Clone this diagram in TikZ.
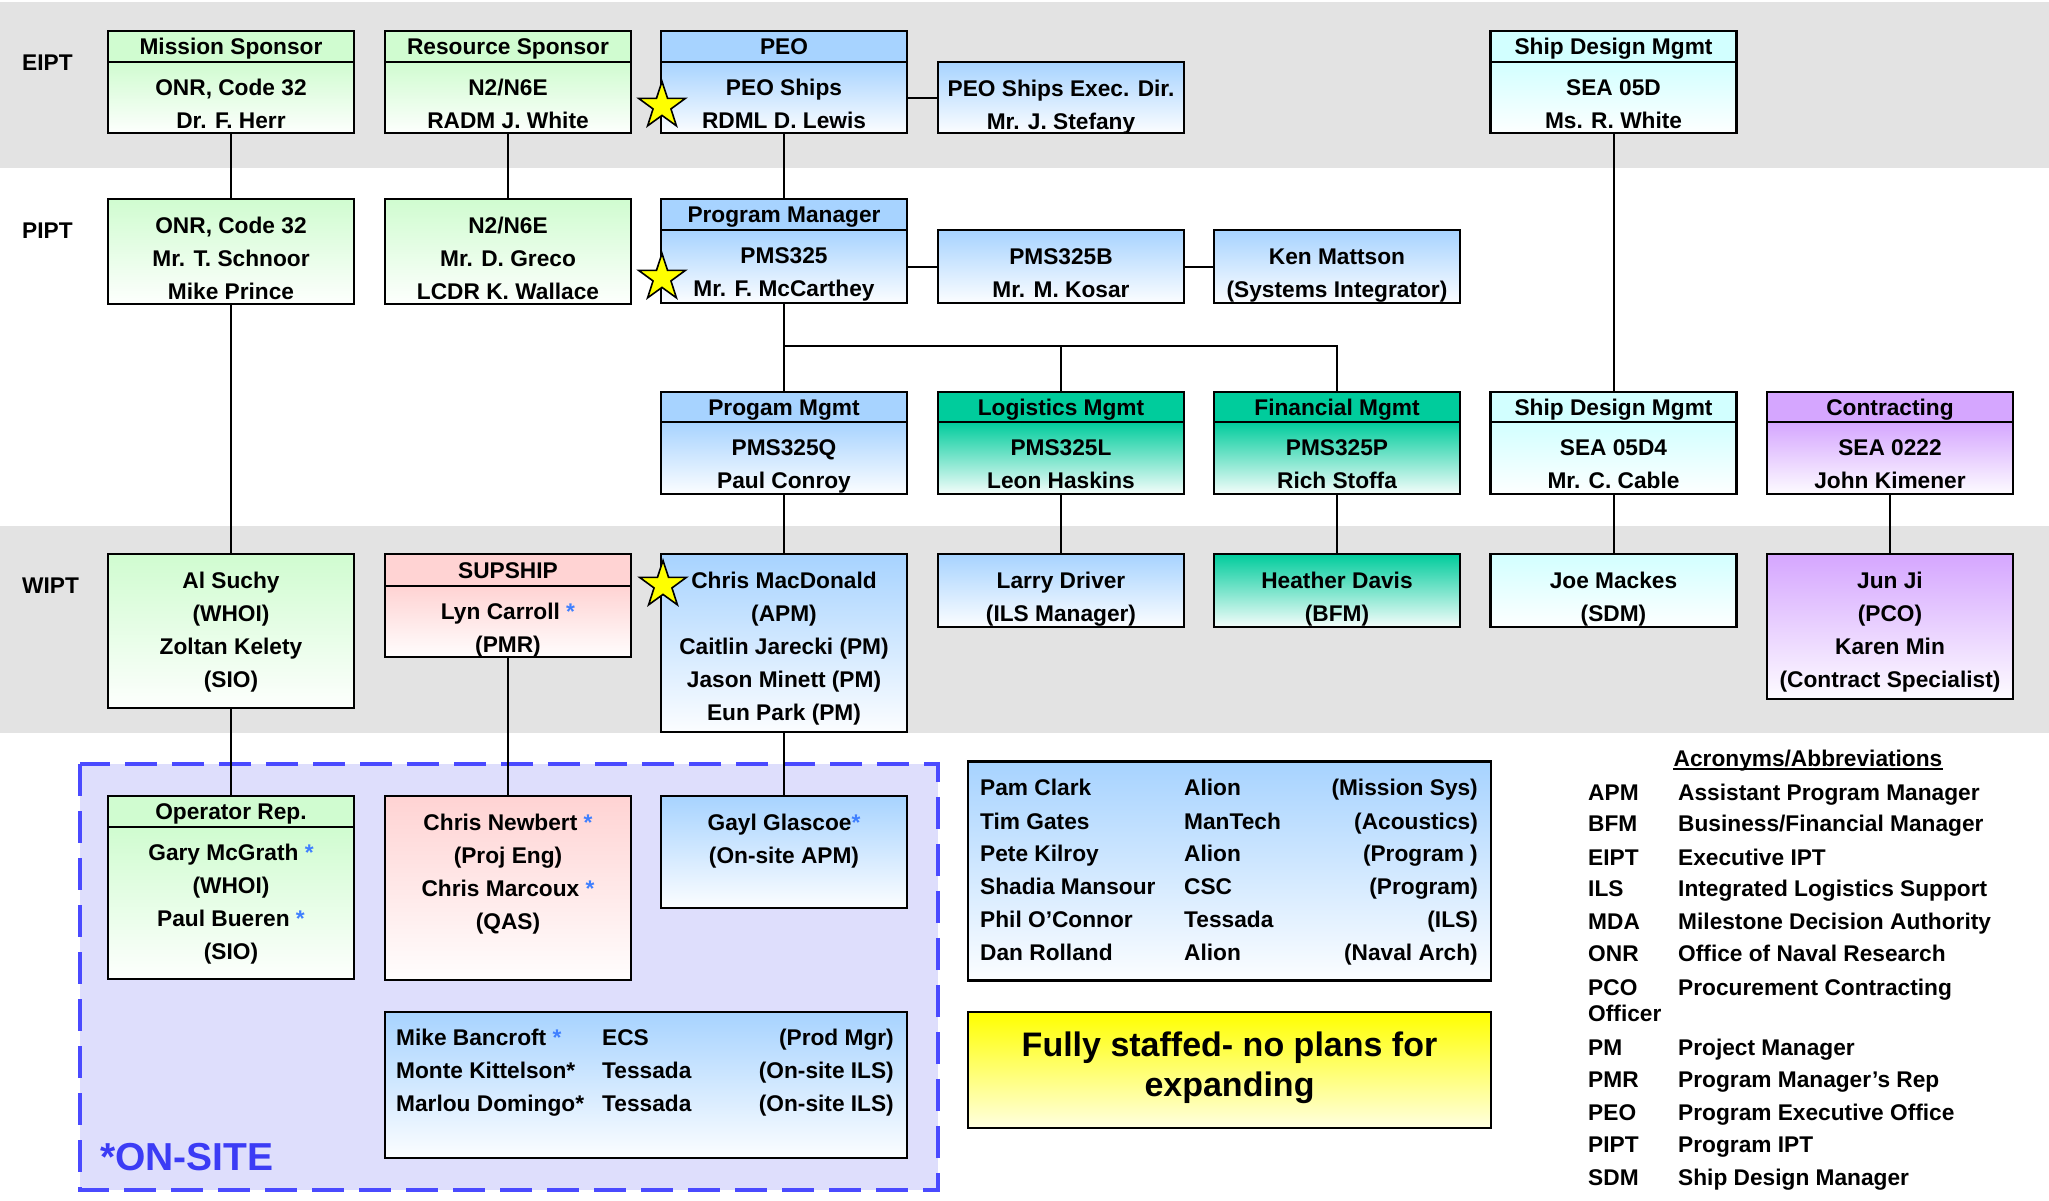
\documentclass[tikz,border=0pt]{standalone}
\usepackage{fontspec}
\setmainfont{Liberation Sans}
\usetikzlibrary{shapes.geometric}
\definecolor{cgreen}{HTML}{D0FCD0}
\definecolor{cblue}{HTML}{A7D3FF}
\definecolor{cteal}{HTML}{00CC9C}
\definecolor{ccyan}{HTML}{D2FFFF}
\definecolor{cpurple}{HTML}{D5A6FF}
\definecolor{cpink}{HTML}{FFD3D3}
\definecolor{bandgray}{HTML}{E3E3E3}
\definecolor{onfill}{HTML}{DEDEFC}
\definecolor{ondash}{HTML}{4A4AFF}
\definecolor{ontext}{HTML}{3C3CF5}
\definecolor{astblue}{HTML}{3F7FFF}
\definecolor{cyellow}{HTML}{FFFF00}
\newcommand{\AstB}{\textcolor{astblue}{*}}
% header box: name, xc, ytop, ydiv, ybot, colour, header, body
\newcommand{\OrgH}[8]{%
  \node[boxs, fill=#6, minimum height={(#4-#3)*1pt}, text height=16.2pt, text depth=0pt] (#1-h) at (#2,{(#3+#4)/2}) {#7};
  \node[boxs, top color=#6, bottom color=#6!4!white, minimum height={(#5-#4)*1pt}] (#1-b) at (#2,{(#4+#5)/2}) {};
  \node[txt] (#1-t) at (#2,{#4+10}) {\strut #8};
}
% plain box: name, xc, ytop, ybot, colour, body
\newcommand{\OrgB}[6]{%
  \node[boxs, top color=#5, bottom color=#5!4!white, minimum height={(#4-#3)*1pt}] (#1) at (#2,{(#3+#4)/2}) {};
  \node[txt] (#1-t) at (#2,{#3+11}) {\strut #6};
}
\begin{document}
\begin{tikzpicture}[x=1pt,y=-1pt,
  every node/.style={font=\bfseries\fontsize{22.7}{33}\selectfont},
  boxs/.style={draw=black, line width=2.2pt, minimum width=246pt, inner sep=0pt, outer sep=0pt},
  txt/.style={align=center, inner sep=0pt, anchor=north},
  conn/.style={draw=black, line width=2pt},
  rowl/.style={anchor=west, inner sep=0pt, text height=16.2pt, text depth=0pt},
  rowr/.style={anchor=east, inner sep=0pt, text height=16.2pt, text depth=0pt},
  stary/.style={star, star points=5, star point ratio=2.6, draw=black, fill=cyellow, line width=1.6pt, minimum size=49pt, inner sep=0pt}]
\useasboundingbox (0,0) rectangle (2049,1200);
% bands
\fill[bandgray] (0,2) rectangle (2049,168);
\fill[bandgray] (0,526) rectangle (2049,733);
% on-site area
\draw[fill=onfill, draw=ondash, line width=4pt, dash pattern=on 32pt off 15pt] (80,764) rectangle (938,1190);
\node[anchor=base west, inner sep=0pt, font=\bfseries\fontsize{39}{44}\selectfont, text=ontext] (onsite) at (100,1170) {*ON-SITE};
% level labels
\node[rowl] (lbl-e) at (22,62) {EIPT};
\node[rowl] (lbl-p) at (22,230) {PIPT};
\node[rowl] (lbl-w) at (22,585) {WIPT};
% EIPT row
\OrgH{ms}{231}{31}{62}{133}{cgreen}{Mission Sponsor}{ONR, Code 32\\Dr. F. Herr}
\OrgH{rs}{508}{31}{62}{133}{cgreen}{Resource Sponsor}{N2/N6E\\RADM J. White}
\OrgH{peo}{784}{31}{62}{133}{cblue}{PEO}{PEO Ships\\RDML D. Lewis}
\OrgB{exd}{1061}{62}{133}{cblue}{PEO Ships Exec. Dir.\\Mr. J. Stefany}
\OrgH{sd}{1613.5}{31}{62}{133}{ccyan}{Ship Design Mgmt}{SEA 05D\\Ms. R. White}
% PIPT row
\OrgB{onr}{231}{199}{304}{cgreen}{ONR, Code 32\\Mr. T. Schnoor\\Mike Prince}
\OrgB{ntwo}{508}{199}{304}{cgreen}{N2/N6E\\Mr. D. Greco\\LCDR K. Wallace}
\OrgH{pm}{784}{199}{230}{303}{cblue}{Program Manager}{PMS325\\Mr. F. McCarthey}
\OrgB{pmb}{1061}{230}{303}{cblue}{PMS325B\\Mr. M. Kosar}
\OrgB{km}{1337}{230}{303}{cblue}{Ken Mattson\\(Systems Integrator)}
% management row
\OrgH{pq}{784}{392}{422}{494}{cblue}{Progam Mgmt}{PMS325Q\\Paul Conroy}
\OrgH{pl}{1061}{392}{422}{494}{cteal}{Logistics Mgmt}{PMS325L\\Leon Haskins}
\OrgH{pf}{1337}{392}{422}{494}{cteal}{Financial Mgmt}{PMS325P\\Rich Stoffa}
\OrgH{sdb}{1613.5}{392}{422}{494}{ccyan}{Ship Design Mgmt}{SEA 05D4\\Mr. C. Cable}
\OrgH{ct}{1890}{392}{422}{494}{cpurple}{Contracting}{SEA 0222\\John Kimener}
% WIPT row
\OrgB{al}{231}{554}{708}{cgreen}{Al Suchy\\(WHOI)\\Zoltan Kelety\\(SIO)}
\OrgH{sup}{508}{554}{586}{657}{cpink}{SUPSHIP}{Lyn Carroll \AstB\\(PMR)}
\OrgB{cm}{784}{554}{732}{cblue}{Chris MacDonald\\(APM)\\Caitlin Jarecki (PM)\\Jason Minett (PM)\\Eun Park (PM)}
\OrgB{ld}{1061}{554}{627}{cblue}{Larry Driver\\(ILS Manager)}
\OrgB{hd}{1337}{554}{627}{cteal}{Heather Davis\\(BFM)}
\OrgB{jm}{1613.5}{554}{627}{ccyan}{Joe Mackes\\(SDM)}
\OrgB{jj}{1890}{554}{699}{cpurple}{Jun Ji\\(PCO)\\Karen Min\\(Contract Specialist)}
% on-site row
\OrgH{op}{231}{796}{827}{979}{cgreen}{Operator Rep.}{Gary McGrath \AstB\\(WHOI)\\Paul Bueren \AstB\\(SIO)}
\OrgB{cn}{508}{796}{980}{cpink}{Chris Newbert \AstB\\(Proj Eng)\\Chris Marcoux \AstB\\(QAS)}
\OrgB{gg}{784}{796}{908}{cblue}{Gayl Glascoe\AstB\\(On-site APM)}
% Bancroft box
\node[boxs, minimum width=522pt, minimum height=146pt, top color=cblue, bottom color=cblue!4!white] (mb) at (646,1085) {};
\foreach \n/\y/\a/\b/\c in {1/1037/{Mike Bancroft \AstB}/ECS/{(Prod Mgr)}, 2/1070/{Monte Kittelson*}/Tessada/{(On-site ILS)}, 3/1103/{Marlou Domingo*}/Tessada/{(On-site ILS)}}{
  \node[rowl] (mb-\n-a) at (396,\y) {\a};
  \node[rowl] (mb-\n-b) at (602,\y) {\b};
  \node[rowr] (mb-\n-c) at (894,\y) {\c};
}
% contractor list box
\node[boxs, minimum width=523pt, minimum height=219pt, top color=cblue, bottom color=cblue!4!white] (pcb) at (1229.5,871) {};
\foreach \n/\y/\a/\b/\c in {1/787/Pam Clark/Alion/{(Mission Sys)}, 2/821/Tim Gates/ManTech/{(Acoustics)}, 3/853/Pete Kilroy/Alion/{(Program )}, 4/886/Shadia Mansour/CSC/{(Program)}, 5/919/Phil O’Connor/Tessada/{(ILS)}, 6/952/Dan Rolland/Alion/{(Naval Arch)}}{
  \node[rowl] (pc-\n-a) at (980,\y) {\a};
  \node[rowl] (pc-\n-b) at (1184,\y) {\b};
  \node[rowr] (pc-\n-c) at (1478,\y) {\c};
}
% fully staffed box
\node[boxs, minimum width=523pt, minimum height=116pt, top color=cyellow, bottom color=cyellow!12!white] (fs) at (1229.5,1070) {};
\node[align=center, inner sep=0pt, font=\bfseries\fontsize{34}{40}\selectfont] (fs-t) at (1229.5,1068) {Fully staffed- no plans for\\expanding};
% legend
\node[inner sep=0pt, text height=16.2pt, text depth=0pt] (ac-title) at (1808,758) {Acronyms/Abbreviations};
\draw[line width=1.8pt] ([yshift=-3pt]ac-title.south west) -- ([yshift=-3pt]ac-title.south east);
\foreach \n/\y/\a/\b in {1/792/APM/Assistant Program Manager, 2/823/BFM/{Business/Financial Manager}, 3/857/EIPT/Executive IPT, 4/888/ILS/Integrated Logistics Support, 5/921/MDA/Milestone Decision Authority, 6/953/ONR/Office of Naval Research, 7/987/PCO/Procurement Contracting, 8/1047/PM/Project Manager, 9/1079/PMR/Program Manager’s Rep, 10/1112/PEO/Program Executive Office, 11/1144/PIPT/Program IPT, 12/1177/SDM/Ship Design Manager}{
  \node[rowl] (lg-\n-a) at (1588,\y) {\a};
  \node[rowl] (lg-\n-b) at (1678,\y) {\b};
}
\node[rowl] (lg-off) at (1588,1013) {Officer};
% connectors
\draw[conn] (ms-b.south) -- (onr.north);
\draw[conn] (onr.south) -- (al.north);
\draw[conn] (al.south) -- (op-h.north);
\draw[conn] (rs-b.south) -- (ntwo.north);
\draw[conn] (sup-b.south) -- (cn.north);
\draw[conn] (peo-b.east) -- (exd.west);
\draw[conn] (peo-b.south) -- (pm-h.north);
\draw[conn] (pm-b.east) -- (pmb.west);
\draw[conn] (pmb.east) -- (km.west);
\coordinate (br) at (784,346);
\draw[conn] (pm-b.south) -- (br) -- (pq-h.north);
\draw[conn] (br) -| (pf-h.north);
\draw[conn] (pl-h.north) -- (pl-h.north |- br);
\draw[conn] (pq-b.south) -- (cm.north);
\draw[conn] (cm.south) -- (gg.north);
\draw[conn] (pl-b.south) -- (ld.north);
\draw[conn] (pf-b.south) -- (hd.north);
\draw[conn] (sd-b.south) -- (sdb-h.north);
\draw[conn] (sdb-b.south) -- (jm.north);
\draw[conn] (ct-b.south) -- (jj.north);
% stars
\node[stary] (st-e) at (662,106) {};
\node[stary] (st-p) at (662,278) {};
\node[stary] (st-w) at (663,585) {};
\end{tikzpicture}
\end{document}
